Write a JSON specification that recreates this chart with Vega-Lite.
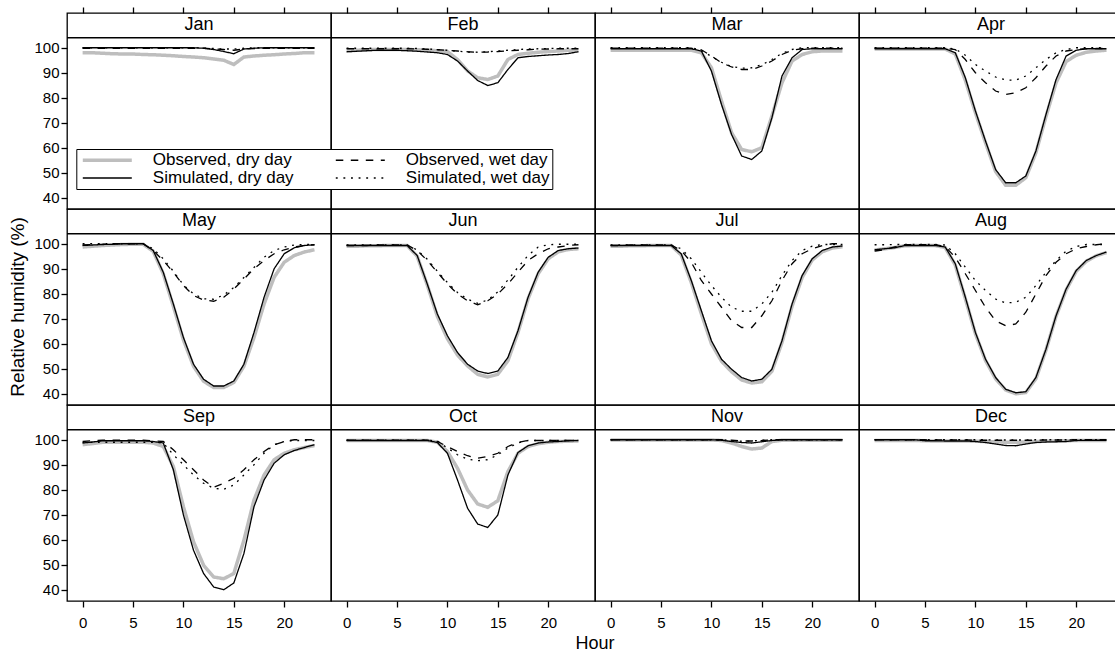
{
"$schema": "https://vega.github.io/schema/vega-lite/v6.json",
"padding": {"left": 8, "top": 6, "right": 0, "bottom": 2},
"bounds": "flush",
"data": {"values": [
{"m":"Jan","h":0,"od":98,"sd":100,"ow":99.8,"sw":100},
{"m":"Jan","h":1,"od":98,"sd":100,"ow":99.8,"sw":100},
{"m":"Jan","h":2,"od":97.8,"sd":100,"ow":99.8,"sw":100},
{"m":"Jan","h":3,"od":97.6,"sd":100,"ow":99.8,"sw":100},
{"m":"Jan","h":4,"od":97.5,"sd":100,"ow":99.8,"sw":100},
{"m":"Jan","h":5,"od":97.5,"sd":100,"ow":99.8,"sw":100},
{"m":"Jan","h":6,"od":97.3,"sd":100,"ow":99.8,"sw":100},
{"m":"Jan","h":7,"od":97.2,"sd":100,"ow":99.8,"sw":100},
{"m":"Jan","h":8,"od":97,"sd":100,"ow":99.8,"sw":100},
{"m":"Jan","h":9,"od":96.8,"sd":100,"ow":99.8,"sw":100},
{"m":"Jan","h":10,"od":96.5,"sd":100,"ow":99.8,"sw":100},
{"m":"Jan","h":11,"od":96.3,"sd":100,"ow":99.8,"sw":100},
{"m":"Jan","h":12,"od":96,"sd":99.8,"ow":99.8,"sw":99.9},
{"m":"Jan","h":13,"od":95.5,"sd":99.3,"ow":99.6,"sw":99.7},
{"m":"Jan","h":14,"od":95,"sd":98.5,"ow":99.3,"sw":99.5},
{"m":"Jan","h":15,"od":93.3,"sd":97.6,"ow":99,"sw":99.5},
{"m":"Jan","h":16,"od":96.3,"sd":99.5,"ow":99.5,"sw":99.8},
{"m":"Jan","h":17,"od":96.7,"sd":99.8,"ow":99.7,"sw":100},
{"m":"Jan","h":18,"od":97,"sd":100,"ow":99.8,"sw":100},
{"m":"Jan","h":19,"od":97.2,"sd":100,"ow":99.8,"sw":100},
{"m":"Jan","h":20,"od":97.5,"sd":100,"ow":99.8,"sw":100},
{"m":"Jan","h":21,"od":97.7,"sd":100,"ow":99.8,"sw":100},
{"m":"Jan","h":22,"od":98,"sd":100,"ow":99.8,"sw":100},
{"m":"Jan","h":23,"od":98,"sd":100,"ow":99.8,"sw":100},
{"m":"Feb","h":0,"od":98.7,"sd":98.4,"ow":99.6,"sw":99.8},
{"m":"Feb","h":1,"od":99,"sd":98.6,"ow":99.6,"sw":99.8},
{"m":"Feb","h":2,"od":99.2,"sd":98.8,"ow":99.6,"sw":99.8},
{"m":"Feb","h":3,"od":99.3,"sd":99,"ow":99.6,"sw":99.8},
{"m":"Feb","h":4,"od":99.3,"sd":99,"ow":99.6,"sw":99.8},
{"m":"Feb","h":5,"od":99.3,"sd":99,"ow":99.6,"sw":99.8},
{"m":"Feb","h":6,"od":99.3,"sd":98.8,"ow":99.6,"sw":99.8},
{"m":"Feb","h":7,"od":99.2,"sd":98.6,"ow":99.5,"sw":99.7},
{"m":"Feb","h":8,"od":99,"sd":98.3,"ow":99.4,"sw":99.5},
{"m":"Feb","h":9,"od":98.8,"sd":98,"ow":99.2,"sw":99.3},
{"m":"Feb","h":10,"od":98.5,"sd":97.3,"ow":99,"sw":99},
{"m":"Feb","h":11,"od":95.3,"sd":94.7,"ow":98.7,"sw":98.6},
{"m":"Feb","h":12,"od":90.7,"sd":90.7,"ow":98.4,"sw":98.3},
{"m":"Feb","h":13,"od":88,"sd":86.9,"ow":98.2,"sw":98.2},
{"m":"Feb","h":14,"od":87.3,"sd":84.9,"ow":98.3,"sw":98.4},
{"m":"Feb","h":15,"od":88.7,"sd":86,"ow":98.5,"sw":98.7},
{"m":"Feb","h":16,"od":95.3,"sd":91.3,"ow":98.8,"sw":99},
{"m":"Feb","h":17,"od":97.3,"sd":96,"ow":99,"sw":99.3},
{"m":"Feb","h":18,"od":97.8,"sd":96.5,"ow":99.2,"sw":99.5},
{"m":"Feb","h":19,"od":98.2,"sd":96.8,"ow":99.4,"sw":99.6},
{"m":"Feb","h":20,"od":98.5,"sd":97.1,"ow":99.5,"sw":99.7},
{"m":"Feb","h":21,"od":98.7,"sd":97.3,"ow":99.6,"sw":99.8},
{"m":"Feb","h":22,"od":99,"sd":97.7,"ow":99.6,"sw":99.8},
{"m":"Feb","h":23,"od":99,"sd":98.4,"ow":99.6,"sw":99.8},
{"m":"Mar","h":0,"od":99,"sd":99.6,"ow":99.8,"sw":100},
{"m":"Mar","h":1,"od":99,"sd":99.6,"ow":99.8,"sw":100},
{"m":"Mar","h":2,"od":99,"sd":99.6,"ow":99.8,"sw":100},
{"m":"Mar","h":3,"od":99,"sd":99.6,"ow":99.8,"sw":100},
{"m":"Mar","h":4,"od":99,"sd":99.6,"ow":99.8,"sw":100},
{"m":"Mar","h":5,"od":99,"sd":99.6,"ow":99.8,"sw":100},
{"m":"Mar","h":6,"od":99,"sd":99.6,"ow":99.8,"sw":100},
{"m":"Mar","h":7,"od":99,"sd":99.6,"ow":99.8,"sw":100},
{"m":"Mar","h":8,"od":99,"sd":99.6,"ow":99.8,"sw":100},
{"m":"Mar","h":9,"od":98,"sd":98.7,"ow":99.2,"sw":99},
{"m":"Mar","h":10,"od":92,"sd":90.7,"ow":96.7,"sw":96.5},
{"m":"Mar","h":11,"od":78.7,"sd":77.3,"ow":94,"sw":94.2},
{"m":"Mar","h":12,"od":66,"sd":65.3,"ow":92.3,"sw":92.5},
{"m":"Mar","h":13,"od":59.3,"sd":56.7,"ow":91.3,"sw":91.8},
{"m":"Mar","h":14,"od":58.4,"sd":55.3,"ow":91.3,"sw":92},
{"m":"Mar","h":15,"od":60,"sd":58.7,"ow":92.7,"sw":93.2},
{"m":"Mar","h":16,"od":72.7,"sd":72,"ow":94.7,"sw":95.3},
{"m":"Mar","h":17,"od":86,"sd":88.7,"ow":97.3,"sw":97.8},
{"m":"Mar","h":18,"od":94.7,"sd":96,"ow":99,"sw":99.3},
{"m":"Mar","h":19,"od":97.3,"sd":99.3,"ow":99.6,"sw":100},
{"m":"Mar","h":20,"od":98.4,"sd":99.6,"ow":99.8,"sw":100},
{"m":"Mar","h":21,"od":98.7,"sd":99.6,"ow":99.8,"sw":100},
{"m":"Mar","h":22,"od":98.7,"sd":99.6,"ow":99.8,"sw":100},
{"m":"Mar","h":23,"od":98.7,"sd":99.6,"ow":99.8,"sw":100},
{"m":"Apr","h":0,"od":99.5,"sd":99.6,"ow":99.8,"sw":100},
{"m":"Apr","h":1,"od":99.5,"sd":99.6,"ow":99.8,"sw":100},
{"m":"Apr","h":2,"od":99.5,"sd":99.6,"ow":99.8,"sw":100},
{"m":"Apr","h":3,"od":99.5,"sd":99.6,"ow":99.8,"sw":100},
{"m":"Apr","h":4,"od":99.5,"sd":99.6,"ow":99.8,"sw":100},
{"m":"Apr","h":5,"od":99.5,"sd":99.6,"ow":99.8,"sw":100},
{"m":"Apr","h":6,"od":99.5,"sd":99.6,"ow":99.8,"sw":100},
{"m":"Apr","h":7,"od":99.5,"sd":99.6,"ow":99.8,"sw":100},
{"m":"Apr","h":8,"od":97.5,"sd":98,"ow":99.3,"sw":99.5},
{"m":"Apr","h":9,"od":87,"sd":88,"ow":95.3,"sw":97},
{"m":"Apr","h":10,"od":74,"sd":74.7,"ow":90,"sw":93.3},
{"m":"Apr","h":11,"od":62,"sd":62.7,"ow":86,"sw":90.7},
{"m":"Apr","h":12,"od":50.5,"sd":51.3,"ow":82.7,"sw":88.3},
{"m":"Apr","h":13,"od":45,"sd":46,"ow":81.3,"sw":87.1},
{"m":"Apr","h":14,"od":45,"sd":46,"ow":82,"sw":87},
{"m":"Apr","h":15,"od":48,"sd":48.7,"ow":84,"sw":88.7},
{"m":"Apr","h":16,"od":58,"sd":58.7,"ow":88,"sw":92},
{"m":"Apr","h":17,"od":72.5,"sd":73.3,"ow":92.7,"sw":95.3},
{"m":"Apr","h":18,"od":86,"sd":87.3,"ow":96.7,"sw":98},
{"m":"Apr","h":19,"od":94.5,"sd":96.7,"ow":98.7,"sw":99.3},
{"m":"Apr","h":20,"od":97,"sd":99,"ow":99.3,"sw":100},
{"m":"Apr","h":21,"od":98.2,"sd":99.6,"ow":99.6,"sw":100},
{"m":"Apr","h":22,"od":98.7,"sd":99.6,"ow":99.7,"sw":100},
{"m":"Apr","h":23,"od":99,"sd":99.6,"ow":99.7,"sw":100},
{"m":"May","h":0,"od":98.7,"sd":99.3,"ow":99.5,"sw":100},
{"m":"May","h":1,"od":99,"sd":99.5,"ow":99.7,"sw":100},
{"m":"May","h":2,"od":99.3,"sd":99.7,"ow":99.8,"sw":100},
{"m":"May","h":3,"od":99.5,"sd":99.8,"ow":100,"sw":100},
{"m":"May","h":4,"od":99.7,"sd":100,"ow":100,"sw":100},
{"m":"May","h":5,"od":99.8,"sd":100,"ow":100,"sw":100},
{"m":"May","h":6,"od":99.8,"sd":100,"ow":100,"sw":100},
{"m":"May","h":7,"od":97,"sd":97.3,"ow":97.3,"sw":98},
{"m":"May","h":8,"od":88,"sd":88.6,"ow":93.3,"sw":94},
{"m":"May","h":9,"od":75,"sd":75.9,"ow":88.6,"sw":89},
{"m":"May","h":10,"od":61.5,"sd":62.5,"ow":83.3,"sw":83.5},
{"m":"May","h":11,"od":51,"sd":51.8,"ow":79.3,"sw":80},
{"m":"May","h":12,"od":45,"sd":45.8,"ow":77.5,"sw":78},
{"m":"May","h":13,"od":42.5,"sd":43.1,"ow":77,"sw":77.8},
{"m":"May","h":14,"od":42.5,"sd":43.1,"ow":78.6,"sw":79.5},
{"m":"May","h":15,"od":44.5,"sd":45.1,"ow":81.9,"sw":82.5},
{"m":"May","h":16,"od":51,"sd":51.8,"ow":85.9,"sw":86.5},
{"m":"May","h":17,"od":62.5,"sd":64.5,"ow":90,"sw":90.5},
{"m":"May","h":18,"od":75.9,"sd":78.6,"ow":93.3,"sw":94.6},
{"m":"May","h":19,"od":86.6,"sd":90,"ow":96,"sw":97.3},
{"m":"May","h":20,"od":92.6,"sd":96,"ow":97.6,"sw":98.7},
{"m":"May","h":21,"od":95.3,"sd":98.4,"ow":98.7,"sw":99.5},
{"m":"May","h":22,"od":96.7,"sd":99.3,"ow":99.3,"sw":99.7},
{"m":"May","h":23,"od":97.6,"sd":99.6,"ow":99.6,"sw":99.8},
{"m":"Jun","h":0,"od":99,"sd":99.3,"ow":99.3,"sw":99.5},
{"m":"Jun","h":1,"od":99,"sd":99.3,"ow":99.3,"sw":99.5},
{"m":"Jun","h":2,"od":99.2,"sd":99.3,"ow":99.3,"sw":99.5},
{"m":"Jun","h":3,"od":99.2,"sd":99.3,"ow":99.5,"sw":99.5},
{"m":"Jun","h":4,"od":99.3,"sd":99.3,"ow":99.5,"sw":99.5},
{"m":"Jun","h":5,"od":99.3,"sd":99.3,"ow":99.5,"sw":99.5},
{"m":"Jun","h":6,"od":99.3,"sd":99.3,"ow":99.5,"sw":99.5},
{"m":"Jun","h":7,"od":95,"sd":95.3,"ow":97.3,"sw":97.5},
{"m":"Jun","h":8,"od":83.5,"sd":83.9,"ow":93.3,"sw":93.8},
{"m":"Jun","h":9,"od":71,"sd":71.9,"ow":88.6,"sw":89},
{"m":"Jun","h":10,"od":62,"sd":63.2,"ow":83.9,"sw":84.5},
{"m":"Jun","h":11,"od":55.5,"sd":56.5,"ow":79.9,"sw":80.5},
{"m":"Jun","h":12,"od":51.1,"sd":51.8,"ow":77.2,"sw":77.8},
{"m":"Jun","h":13,"od":47.8,"sd":49.1,"ow":75.6,"sw":76.2},
{"m":"Jun","h":14,"od":46.7,"sd":48.1,"ow":77.2,"sw":77.5},
{"m":"Jun","h":15,"od":47.8,"sd":49.1,"ow":79.9,"sw":80.8},
{"m":"Jun","h":16,"od":53.2,"sd":54.5,"ow":83.9,"sw":85.5},
{"m":"Jun","h":17,"od":64.5,"sd":65.2,"ow":88.6,"sw":90.6},
{"m":"Jun","h":18,"od":78,"sd":78.6,"ow":93.3,"sw":95.3},
{"m":"Jun","h":19,"od":88,"sd":88.6,"ow":96,"sw":98.7},
{"m":"Jun","h":20,"od":94,"sd":94.6,"ow":98,"sw":99.6},
{"m":"Jun","h":21,"od":96.8,"sd":97.3,"ow":98.7,"sw":99.8},
{"m":"Jun","h":22,"od":97.7,"sd":98,"ow":99.3,"sw":99.8},
{"m":"Jun","h":23,"od":98,"sd":98.3,"ow":99.6,"sw":99.8},
{"m":"Jul","h":0,"od":99,"sd":99.3,"ow":99.3,"sw":99.5},
{"m":"Jul","h":1,"od":99,"sd":99.3,"ow":99.3,"sw":99.5},
{"m":"Jul","h":2,"od":99.2,"sd":99.3,"ow":99.5,"sw":99.5},
{"m":"Jul","h":3,"od":99.2,"sd":99.3,"ow":99.5,"sw":99.5},
{"m":"Jul","h":4,"od":99.3,"sd":99.3,"ow":99.5,"sw":99.5},
{"m":"Jul","h":5,"od":99.3,"sd":99.3,"ow":99.5,"sw":99.5},
{"m":"Jul","h":6,"od":99.3,"sd":99.3,"ow":99.5,"sw":99.5},
{"m":"Jul","h":7,"od":95.5,"sd":96,"ow":97.3,"sw":98},
{"m":"Jul","h":8,"od":84.5,"sd":85.3,"ow":92.6,"sw":94},
{"m":"Jul","h":9,"od":72,"sd":73.2,"ow":85.3,"sw":88.6},
{"m":"Jul","h":10,"od":60,"sd":61.2,"ow":79.9,"sw":83.3},
{"m":"Jul","h":11,"od":53,"sd":53.8,"ow":74.6,"sw":78.6},
{"m":"Jul","h":12,"od":48.8,"sd":49.8,"ow":69.2,"sw":74.6},
{"m":"Jul","h":13,"od":45.5,"sd":46.5,"ow":66.5,"sw":73},
{"m":"Jul","h":14,"od":44.3,"sd":45.1,"ow":66.5,"sw":73},
{"m":"Jul","h":15,"od":44.8,"sd":45.8,"ow":71.2,"sw":75.9},
{"m":"Jul","h":16,"od":49,"sd":49.8,"ow":77.2,"sw":80.6},
{"m":"Jul","h":17,"od":60.5,"sd":61.2,"ow":85.3,"sw":87.3},
{"m":"Jul","h":18,"od":75,"sd":75.9,"ow":92,"sw":93.3},
{"m":"Jul","h":19,"od":86.5,"sd":87.3,"ow":96,"sw":97.3},
{"m":"Jul","h":20,"od":93.5,"sd":94,"ow":98,"sw":99},
{"m":"Jul","h":21,"od":96.8,"sd":97.3,"ow":99.3,"sw":99.7},
{"m":"Jul","h":22,"od":98.3,"sd":98.7,"ow":100,"sw":99.7},
{"m":"Jul","h":23,"od":98.8,"sd":99.1,"ow":100,"sw":99.7},
{"m":"Aug","h":0,"od":97.5,"sd":97.6,"ow":97.1,"sw":99.6},
{"m":"Aug","h":1,"od":98,"sd":98,"ow":97.6,"sw":99.6},
{"m":"Aug","h":2,"od":98.5,"sd":98.4,"ow":98.7,"sw":99.7},
{"m":"Aug","h":3,"od":99.2,"sd":99.3,"ow":99.6,"sw":99.7},
{"m":"Aug","h":4,"od":99.3,"sd":99.3,"ow":99.6,"sw":99.7},
{"m":"Aug","h":5,"od":99.3,"sd":99.3,"ow":99.6,"sw":99.7},
{"m":"Aug","h":6,"od":99.3,"sd":99.3,"ow":99.6,"sw":99.7},
{"m":"Aug","h":7,"od":98.5,"sd":98.7,"ow":98.9,"sw":99.5},
{"m":"Aug","h":8,"od":91.5,"sd":92,"ow":94.6,"sw":96},
{"m":"Aug","h":9,"od":78,"sd":78.6,"ow":88,"sw":90.6},
{"m":"Aug","h":10,"od":64,"sd":64.5,"ow":81.3,"sw":85.3},
{"m":"Aug","h":11,"od":53.3,"sd":53.8,"ow":74.6,"sw":81.3},
{"m":"Aug","h":12,"od":46,"sd":46.5,"ow":69.2,"sw":77.9},
{"m":"Aug","h":13,"od":41.5,"sd":41.8,"ow":67.2,"sw":76.3},
{"m":"Aug","h":14,"od":40,"sd":40.4,"ow":67.9,"sw":76.6},
{"m":"Aug","h":15,"od":40.5,"sd":40.8,"ow":72.6,"sw":78.6},
{"m":"Aug","h":16,"od":46,"sd":46.5,"ow":79.9,"sw":83.3},
{"m":"Aug","h":17,"od":57.5,"sd":57.8,"ow":87.3,"sw":88.6},
{"m":"Aug","h":18,"od":71,"sd":71.2,"ow":92.6,"sw":93.3},
{"m":"Aug","h":19,"od":81.5,"sd":81.9,"ow":96,"sw":97.1},
{"m":"Aug","h":20,"od":89,"sd":89.3,"ow":98,"sw":98.9},
{"m":"Aug","h":21,"od":93,"sd":93.3,"ow":98.9,"sw":99.7},
{"m":"Aug","h":22,"od":95.2,"sd":95.3,"ow":99.6,"sw":99.7},
{"m":"Aug","h":23,"od":96.5,"sd":96.7,"ow":100,"sw":99.7},
{"m":"Sep","h":0,"od":98,"sd":98.7,"ow":99.3,"sw":98.9},
{"m":"Sep","h":1,"od":98.5,"sd":99.1,"ow":99.6,"sw":99},
{"m":"Sep","h":2,"od":99,"sd":99.6,"ow":99.8,"sw":99},
{"m":"Sep","h":3,"od":99,"sd":99.6,"ow":99.8,"sw":99},
{"m":"Sep","h":4,"od":99,"sd":99.6,"ow":99.8,"sw":99},
{"m":"Sep","h":5,"od":99,"sd":99.6,"ow":99.8,"sw":99},
{"m":"Sep","h":6,"od":99,"sd":99.6,"ow":99.8,"sw":99},
{"m":"Sep","h":7,"od":98.7,"sd":99.3,"ow":99.6,"sw":99},
{"m":"Sep","h":8,"od":97.3,"sd":98.7,"ow":99.3,"sw":98.7},
{"m":"Sep","h":9,"od":89.3,"sd":88,"ow":96,"sw":94},
{"m":"Sep","h":10,"od":73.2,"sd":69.9,"ow":92,"sw":90},
{"m":"Sep","h":11,"od":59.2,"sd":55.8,"ow":88,"sw":85.9},
{"m":"Sep","h":12,"od":49.8,"sd":46.5,"ow":83.9,"sw":82.6},
{"m":"Sep","h":13,"od":45.1,"sd":41.1,"ow":81,"sw":80.6},
{"m":"Sep","h":14,"od":44.4,"sd":40,"ow":82.6,"sw":80.2},
{"m":"Sep","h":15,"od":46.5,"sd":42.7,"ow":84.6,"sw":81.9},
{"m":"Sep","h":16,"od":59.8,"sd":54.5,"ow":88,"sw":85.9},
{"m":"Sep","h":17,"od":75.9,"sd":73.2,"ow":92,"sw":90},
{"m":"Sep","h":18,"od":85.9,"sd":83.9,"ow":95.3,"sw":94.6},
{"m":"Sep","h":19,"od":92,"sd":90.6,"ow":98,"sw":98},
{"m":"Sep","h":20,"od":94.6,"sd":94,"ow":99.3,"sw":99.3},
{"m":"Sep","h":21,"od":96,"sd":95.7,"ow":100,"sw":99.7},
{"m":"Sep","h":22,"od":96.9,"sd":96.9,"ow":100,"sw":99.7},
{"m":"Sep","h":23,"od":97.7,"sd":98,"ow":100,"sw":99.7},
{"m":"Oct","h":0,"od":99.7,"sd":99.7,"ow":99.8,"sw":99.8},
{"m":"Oct","h":1,"od":99.7,"sd":99.7,"ow":99.8,"sw":99.8},
{"m":"Oct","h":2,"od":99.7,"sd":99.7,"ow":99.8,"sw":99.8},
{"m":"Oct","h":3,"od":99.7,"sd":99.7,"ow":99.8,"sw":99.8},
{"m":"Oct","h":4,"od":99.7,"sd":99.7,"ow":99.8,"sw":99.8},
{"m":"Oct","h":5,"od":99.7,"sd":99.7,"ow":99.8,"sw":99.8},
{"m":"Oct","h":6,"od":99.7,"sd":99.7,"ow":99.8,"sw":99.8},
{"m":"Oct","h":7,"od":99.7,"sd":99.7,"ow":99.8,"sw":99.8},
{"m":"Oct","h":8,"od":99.7,"sd":99.7,"ow":99.8,"sw":99.8},
{"m":"Oct","h":9,"od":99,"sd":98.9,"ow":99.3,"sw":99.5},
{"m":"Oct","h":10,"od":95.3,"sd":94.6,"ow":97.3,"sw":96.7},
{"m":"Oct","h":11,"od":88.6,"sd":83.9,"ow":95.3,"sw":94},
{"m":"Oct","h":12,"od":79.9,"sd":72.6,"ow":93.6,"sw":92.2},
{"m":"Oct","h":13,"od":74.3,"sd":66.3,"ow":92.6,"sw":91.6},
{"m":"Oct","h":14,"od":73,"sd":64.9,"ow":93.3,"sw":92},
{"m":"Oct","h":15,"od":75.6,"sd":69.9,"ow":94.6,"sw":94},
{"m":"Oct","h":16,"od":87.3,"sd":85.9,"ow":97.3,"sw":96.7},
{"m":"Oct","h":17,"od":94.6,"sd":94.9,"ow":98.9,"sw":98.7},
{"m":"Oct","h":18,"od":97.3,"sd":97.6,"ow":99.7,"sw":99.7},
{"m":"Oct","h":19,"od":98.4,"sd":98.7,"ow":99.7,"sw":99.7},
{"m":"Oct","h":20,"od":99,"sd":99.1,"ow":99.7,"sw":99.7},
{"m":"Oct","h":21,"od":99.3,"sd":99.3,"ow":99.7,"sw":99.7},
{"m":"Oct","h":22,"od":99.4,"sd":99.6,"ow":99.7,"sw":99.7},
{"m":"Oct","h":23,"od":99.5,"sd":99.7,"ow":99.7,"sw":99.7},
{"m":"Nov","h":0,"od":99.9,"sd":100,"ow":100,"sw":100},
{"m":"Nov","h":1,"od":99.9,"sd":100,"ow":100,"sw":100},
{"m":"Nov","h":2,"od":99.9,"sd":100,"ow":100,"sw":100},
{"m":"Nov","h":3,"od":99.9,"sd":100,"ow":100,"sw":100},
{"m":"Nov","h":4,"od":99.9,"sd":100,"ow":100,"sw":100},
{"m":"Nov","h":5,"od":99.9,"sd":100,"ow":100,"sw":100},
{"m":"Nov","h":6,"od":99.9,"sd":100,"ow":100,"sw":100},
{"m":"Nov","h":7,"od":99.9,"sd":100,"ow":100,"sw":100},
{"m":"Nov","h":8,"od":99.9,"sd":100,"ow":100,"sw":100},
{"m":"Nov","h":9,"od":99.9,"sd":100,"ow":100,"sw":100},
{"m":"Nov","h":10,"od":99.9,"sd":100,"ow":100,"sw":100},
{"m":"Nov","h":11,"od":99.7,"sd":99.8,"ow":100,"sw":100},
{"m":"Nov","h":12,"od":98.7,"sd":99.3,"ow":99.8,"sw":99.7},
{"m":"Nov","h":13,"od":97.3,"sd":98.9,"ow":99.5,"sw":99.4},
{"m":"Nov","h":14,"od":96.3,"sd":98.7,"ow":99.5,"sw":99.5},
{"m":"Nov","h":15,"od":96.7,"sd":99.2,"ow":99.7,"sw":99.8},
{"m":"Nov","h":16,"od":99.3,"sd":99.7,"ow":100,"sw":100},
{"m":"Nov","h":17,"od":99.8,"sd":100,"ow":100,"sw":100},
{"m":"Nov","h":18,"od":99.8,"sd":100,"ow":100,"sw":100},
{"m":"Nov","h":19,"od":99.8,"sd":100,"ow":100,"sw":100},
{"m":"Nov","h":20,"od":99.8,"sd":100,"ow":100,"sw":100},
{"m":"Nov","h":21,"od":99.8,"sd":100,"ow":100,"sw":100},
{"m":"Nov","h":22,"od":99.8,"sd":100,"ow":100,"sw":100},
{"m":"Nov","h":23,"od":99.8,"sd":100,"ow":100,"sw":100},
{"m":"Dec","h":0,"od":99.7,"sd":100,"ow":100,"sw":100},
{"m":"Dec","h":1,"od":99.7,"sd":100,"ow":100,"sw":100},
{"m":"Dec","h":2,"od":99.7,"sd":100,"ow":100,"sw":100},
{"m":"Dec","h":3,"od":99.7,"sd":100,"ow":100,"sw":100},
{"m":"Dec","h":4,"od":99.7,"sd":100,"ow":100,"sw":100},
{"m":"Dec","h":5,"od":99.6,"sd":99.6,"ow":100,"sw":100},
{"m":"Dec","h":6,"od":99.5,"sd":99.6,"ow":99.9,"sw":100},
{"m":"Dec","h":7,"od":99.5,"sd":99.5,"ow":99.9,"sw":100},
{"m":"Dec","h":8,"od":99.5,"sd":99.5,"ow":99.9,"sw":100},
{"m":"Dec","h":9,"od":99.5,"sd":99.5,"ow":99.9,"sw":100},
{"m":"Dec","h":10,"od":99.4,"sd":99.3,"ow":99.8,"sw":100},
{"m":"Dec","h":11,"od":99.3,"sd":98.9,"ow":99.8,"sw":100},
{"m":"Dec","h":12,"od":99.2,"sd":98.3,"ow":99.8,"sw":99.9},
{"m":"Dec","h":13,"od":99,"sd":97.7,"ow":99.8,"sw":99.9},
{"m":"Dec","h":14,"od":99,"sd":97.6,"ow":99.8,"sw":99.9},
{"m":"Dec","h":15,"od":99.1,"sd":98.3,"ow":99.8,"sw":99.9},
{"m":"Dec","h":16,"od":99.3,"sd":98.9,"ow":99.8,"sw":100},
{"m":"Dec","h":17,"od":99.4,"sd":99.1,"ow":99.9,"sw":100},
{"m":"Dec","h":18,"od":99.5,"sd":99.2,"ow":99.9,"sw":100},
{"m":"Dec","h":19,"od":99.6,"sd":99.3,"ow":99.9,"sw":100},
{"m":"Dec","h":20,"od":99.7,"sd":99.7,"ow":100,"sw":100},
{"m":"Dec","h":21,"od":99.7,"sd":99.8,"ow":100,"sw":100},
{"m":"Dec","h":22,"od":99.7,"sd":99.8,"ow":100,"sw":100},
{"m":"Dec","h":23,"od":99.7,"sd":99.8,"ow":100,"sw":100}
]},
"transform": [
  {"calculate": "indexof(['Jan','Feb','Mar','Apr','May','Jun','Jul','Aug','Sep','Oct','Nov','Dec'], datum.m)", "as": "i"},
  {"calculate": "floor(datum.i / 4)", "as": "r"},
  {"calculate": "datum.i % 4", "as": "c"},
  {"fold": ["od", "ow", "sd", "sw"], "as": ["s", "v"]}
],
"facet": {
  "row": {"field": "r", "type": "ordinal", "header": {"labels": false, "title": "Relative humidity (%)", "titleOrient": "left", "titleFontSize": 19, "titleFontWeight": "normal", "titleFont": "Liberation Sans", "titleColor": "black", "titlePadding": -5}},
  "column": {"field": "c", "type": "ordinal", "header": {"labels": false, "title": "Hour", "titleOrient": "bottom", "titleFontSize": 18, "titleFontWeight": "normal", "titleFont": "Liberation Sans", "titleColor": "black", "titlePadding": -5}}
},
"spacing": 0,
"spec": {
  "width": 264,
  "height": 196,
  "layer": [
    {
      "mark": {"type": "line"},
      "encoding": {
        "x": {"field": "h", "type": "quantitative", "scale": {"domain": [-1.55, 24.64], "zero": false, "nice": false},
              "axis": {"orient": "bottom", "values": [0, 5, 10, 15, 20], "title": null, "labelPadding": 8, "labelFlush": false}},
        "y": {"field": "v", "type": "quantitative", "scale": {"domain": [35.5, 113.9], "zero": false, "nice": false},
              "axis": {"orient": "left", "values": [40, 50, 60, 70, 80, 90, 100], "title": null, "labelPadding": 2, "labelFlush": false}},
        "color": {"field": "s", "type": "nominal",
                  "scale": {"domain": ["od", "ow", "sd", "sw"], "range": ["#bebebe", "black", "black", "black"]},
                  "legend": {"orient": "none", "legendX": 9.3, "legendY": 136, "columns": 2, "direction": "horizontal", "title": null,
                             "symbolType": "stroke", "symbolSize": 2401, "symbolStrokeWidth": 1.3,
                             "labelExpr": "datum.label=='od'?'Observed, dry day':datum.label=='ow'?'Observed, wet day':datum.label=='sd'?'Simulated, dry day':'Simulated, wet day'",
                             "fillColor": "white", "strokeColor": "black", "padding": 2.5, "columnPadding": 38, "rowPadding": 0,
                             "symbolOffset": 20, "labelOffset": 37, "labelFontSize": 17, "labelLimit": 300, "labelColor": "black",
                             "encode": {"symbols": {"update": {"strokeWidth": {"signal": "datum.value==='od' ? 3.5 : 1.3"}}}}}},
        "strokeDash": {"field": "s", "type": "nominal",
                       "scale": {"domain": ["od", "ow", "sd", "sw"], "range": [[1, 0], [7.5, 7.5], [1, 0], [1.9, 5.7]]}},
        "strokeWidth": {"condition": {"test": "datum.s==='od'", "value": 3.5}, "value": 1.3}
      }
    },
    {
      "transform": [{"filter": "datum.h==0 && datum.s==='od'"}],
      "mark": {"type": "point", "opacity": 0},
      "encoding": {
        "x": {"field": "h", "type": "quantitative", "scale": {"domain": [-1.55, 24.64], "zero": false, "nice": false},
              "axis": {"orient": "top", "values": [0, 5, 10, 15, 20], "labels": false, "title": null}},
        "y": {"datum": 109, "scale": {"domain": [35.5, 113.9], "zero": false, "nice": false},
              "axis": {"orient": "left", "values": [40, 50, 60, 70, 80, 90, 100], "title": null, "labelPadding": 2, "labelFlush": false}}
      }
    },
    {
      "transform": [{"filter": "datum.h==0 && datum.s==='od'"}],
      "mark": {"type": "rule", "color": "black", "strokeWidth": 1.3},
      "encoding": {
        "y": {"datum": 104, "scale": {"domain": [35.5, 113.9], "zero": false, "nice": false},
              "axis": {"orient": "left", "values": [40, 50, 60, 70, 80, 90, 100], "title": null, "labelPadding": 2, "labelFlush": false}}
      }
    },
    {
      "transform": [{"filter": "datum.h==0 && datum.s==='od'"}],
      "mark": {"type": "text", "fontSize": 18, "font": "Liberation Sans", "color": "black", "align": "center", "baseline": "middle"},
      "encoding": {
        "text": {"field": "m"},
        "y": {"datum": 109, "scale": {"domain": [35.5, 113.9], "zero": false, "nice": false},
              "axis": {"orient": "left", "values": [40, 50, 60, 70, 80, 90, 100], "title": null, "labelPadding": 2, "labelFlush": false}}
      }
    }
  ]
},
"config": {
  "font": "Liberation Sans",
  "view": {"stroke": "black", "strokeWidth": 1.3},
  "axis": {"domain": false, "grid": false, "tickSize": 6, "tickColor": "black", "tickWidth": 1.3,
           "labelFont": "Liberation Sans", "labelFontSize": 15, "labelColor": "black",
           "titleFont": "Liberation Sans", "titleFontSize": 18, "titleFontWeight": "normal", "titleColor": "black"},
  "legend": {"labelFont": "Liberation Sans"}
}
}
